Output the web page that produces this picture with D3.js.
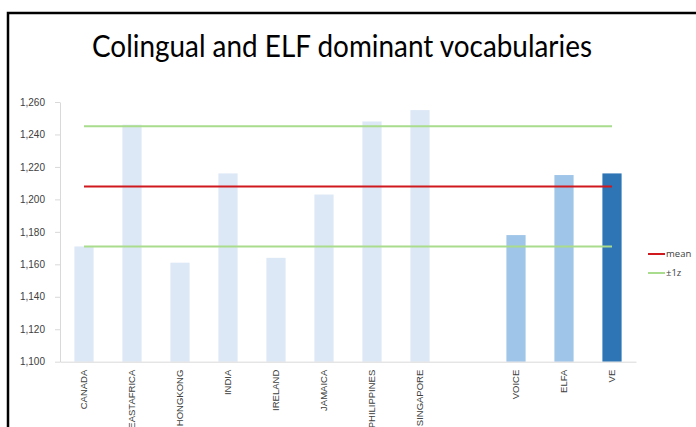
<!DOCTYPE html>
<html>
    <head>
        <meta charset="utf-8">
        <style>
        body {
            margin: 0;
            background: white;
            font-family: "Open Sans", sans-serif;
        }

        svg {
            display: block;
        }

        .y .domain, .x .domain {
            stroke: #d9d9d9;
        }

        .y .tick line {
            stroke: #d9d9d9;
        }

        .y .tick text {
            font-size: 10px;
            fill: #404040;
        }

        .x .tick line {
            display: none;
        }

        .x .tick text {
            font-size: 9.5px;
            fill: #404040;
        }
        </style>
    </head>
    <body>
        <div id="chart"></div>
        <script src="https://d3js.org/d3.v7.min.js"></script>
        <script>

            // data
            let categories = ["CANADA", "EASTAFRICA", "HONGKONG", "INDIA", "IRELAND", "JAMAICA",
                              "PHILIPPINES", "SINGAPORE", "", "VOICE", "ELFA", "VE"]
            let values = [1171, 1246, 1161, 1216, 1164, 1203, 1248, 1255, null, 1178, 1215, 1216]
            let groups = ["col", "col", "col", "col", "col", "col", "col", "col", null, "elf", "elf", "ve"]
            let meanValue = 1208
            let zValues = [1171, 1245] // mean -1z / +1z
            let yTicks = [1100, 1120, 1140, 1160, 1180, 1200, 1220, 1240, 1260]
            let legendLabels = ["mean", "\u00b11z"]

            let colors = {col: "#dce8f5", elf: "#9fc5e8", ve: "#2e75b6"}
            let meanColor = "#d0181f"
            let zColor = "#a9dc8c"

            let width = 696
            let height = 427

            let margin = {top: 102, right: 60, bottom: 65.3, left: 60}

            let svg = d3.select("#chart")
                .append("svg")
                .attr("width", width)
                .attr("height", height)

            // outer frame
            svg.append("rect")
                .attr("x", 8)
                .attr("y", 13)
                .attr("width", 700)
                .attr("height", 430)
                .attr("fill", "white")
                .attr("stroke", "black")
                .attr("stroke-width", 2.5)

            svg.append("text")
                .attr("x", 342)
                .attr("y", 57)
                .attr("text-anchor", "middle")
                .attr("textLength", 500)
                .attr("lengthAdjust", "spacingAndGlyphs")
                .style("font-family", "Lato, 'Open Sans', sans-serif")
                .style("font-size", "30px")
                .style("fill", "#000")
                .text("Colingual and ELF dominant vocabularies")

            let x = d3.scaleBand()
                .domain(categories)
                .range([margin.left, 636])
                .paddingInner(0.6)
                .paddingOuter(0.3)

            let y = d3.scaleLinear()
                .domain([1100, 1260])
                .range([height - margin.bottom, margin.top])

            let yAxisSettings = d3.axisLeft(y)
                .tickValues(yTicks)
                .tickFormat(d3.format(","))
                .tickSize(5)
                .tickPadding(10)
                .tickSizeOuter(0)

            svg.append("g")
                .attr("class", "y axis")
                .attr("transform", `translate(${margin.left}, 0)`)
                .call(yAxisSettings)

            let bars = categories.map((c, i) => ({category: c, value: values[i], group: groups[i]}))
                .filter(d => d.value !== null)

            svg.append("g")
                .attr("class", "bars")
                .selectAll(".bar")
                .data(bars)
                .join("rect")
                .attr("class", "bar")
                .attr("x", d => x(d.category))
                .attr("width", x.bandwidth())
                .attr("y", d => y(d.value))
                .attr("height", d => y(1100) - y(d.value))
                .style("fill", d => colors[d.group])

            let xAxisSettings = d3.axisBottom(x)
                .tickSize(0)
                .tickSizeOuter(0)

            let xAxis = svg.append("g")
                .attr("class", "x axis")
                .attr("transform", `translate(0, ${y(1100)})`)
                .call(xAxisSettings)

            xAxis.selectAll(".tick text")
                .attr("transform", "rotate(-90)")
                .attr("text-anchor", "end")
                .attr("x", -8)
                .attr("y", 0)
                .attr("dy", "0.35em")

            // mean and +-1z lines, from first to last category centre
            let x0 = x(categories[0]) + x.bandwidth() / 2
            let x1 = x(categories[categories.length - 1]) + x.bandwidth() / 2

            svg.append("g")
                .selectAll("line")
                .data(zValues)
                .join("line")
                .attr("x1", x0)
                .attr("x2", x1)
                .attr("y1", d => y(d))
                .attr("y2", d => y(d))
                .attr("stroke", zColor)
                .attr("stroke-width", 2)

            svg.append("line")
                .attr("x1", x0)
                .attr("x2", x1)
                .attr("y1", y(meanValue))
                .attr("y2", y(meanValue))
                .attr("stroke", meanColor)
                .attr("stroke-width", 2)

            // legend
            let legend = svg.append("g")
                .attr("transform", "translate(648, 254)")
                .selectAll("g")
                .data(legendLabels)
                .join("g")
                .attr("transform", (d, i) => `translate(0, ${i * 19})`)

            legend.append("line")
                .attr("x1", 0)
                .attr("x2", 17)
                .attr("stroke", (d, i) => i == 0 ? meanColor : zColor)
                .attr("stroke-width", 2)

            legend.append("text")
                .attr("x", 18)
                .attr("dy", "0.35em")
                .style("font-size", "9.5px")
                .style("fill", "#404040")
                .text(d => d)

        </script>
    </body>
</html>
